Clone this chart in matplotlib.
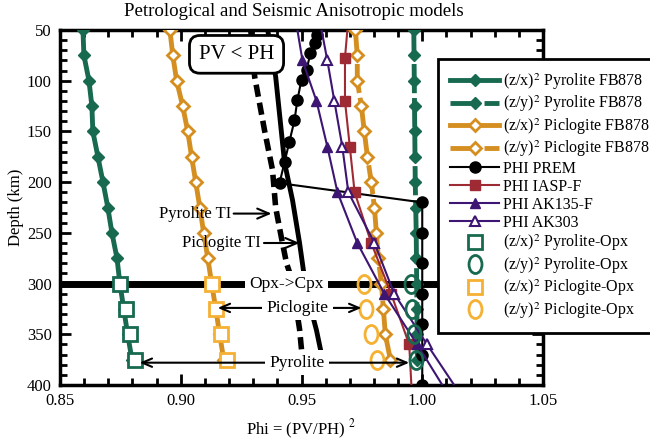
import matplotlib
matplotlib.use("Agg")
import matplotlib.pyplot as plt
from matplotlib.path import Path
from matplotlib.transforms import Affine2D
from matplotlib.ticker import MultipleLocator

plt.rcParams['font.family'] = ['Liberation Serif', 'DejaVu Serif']
plt.rcParams['mathtext.fontset'] = 'stix'

# FB878 model curves (every 25 km)
depth_fb = [50, 75, 100, 125, 150, 175, 200, 225, 250, 275, 300, 325, 350, 375]
pyr_zx_fb = [0.8595, 0.8599, 0.8620, 0.8632, 0.8636, 0.8657, 0.8678,
             0.8698, 0.8715, 0.8736, 0.8748, 0.8764, 0.8780, 0.8798]
pyr_zy_fb = [0.9965, 0.9966, 0.9967, 0.9968, 0.9969, 0.9970, 0.9971,
             0.9973, 0.9975, 0.9976, 0.9977, 0.9978, 0.9979, 0.9980]
pic_zx_fb = [0.8955, 0.8967, 0.8983, 0.9008, 0.9029, 0.9045, 0.9062,
             0.9079, 0.9095, 0.9112, 0.9128, 0.9145, 0.9161, 0.9178]
pic_zy_fb = [0.9723, 0.9731, 0.9731, 0.9748, 0.9760, 0.9773, 0.9789,
             0.9802, 0.9810, 0.9818, 0.9831, 0.9839, 0.9847, 0.9868]

# seismic models
depth_prem = [55, 63, 73, 89, 99, 119, 139, 160, 180, 201,
              220, 250, 280, 310, 340, 370, 400]
phi_prem = [0.9566, 0.9554, 0.9537, 0.9521, 0.9500, 0.9483, 0.9471, 0.9450,
            0.9430, 0.9409, 1.0, 1.0, 1.0, 1.0, 1.0, 1.0, 1.0]

depth_iasp = [50, 77.5, 120, 165, 210, 260, 310, 360, 400]
phi_iasp = [0.9690, 0.9680, 0.9680, 0.9700, 0.9720, 0.9789, 0.9871, 0.9946, 0.9955]
iasp_marks = [1, 2, 3, 4, 5, 6, 7]

depth_ak = [50, 80, 120, 165, 210, 260, 310, 360, 400]
phi_ak135 = [0.9483, 0.9504, 0.9562, 0.9607, 0.9649, 0.9731, 0.9843, 0.9979, 1.0083]
phi_ak303 = [0.9583, 0.9607, 0.9636, 0.9669, 0.9694, 0.9802, 0.9884, 1.0020, 1.0132]
ak_marks = [1, 2, 3, 4, 5, 6, 7]

# transverse isotropy curves
depth_pyr_ti = [50, 96, 149, 188, 225, 255, 280, 295, 325, 345, 375]
phi_pyr_ti = [0.9290, 0.9306, 0.9347, 0.9380, 0.9393, 0.9417, 0.9438,
              0.9459, 0.9479, 0.9492, 0.9504]
depth_pic_ti = [50, 96, 181, 218, 260, 287, 316, 346, 370, 375]
phi_pic_ti = [0.9360, 0.9393, 0.9430, 0.9463, 0.9492, 0.9508, 0.9529,
              0.9562, 0.9583, 0.9587]

# Opx models
depth_opx = [300, 325, 350, 375]
pyr_zx_opx = [0.8748, 0.8773, 0.8790, 0.8810]
pyr_zy_opx = [0.9955, 0.9959, 0.9967, 0.9975]
pic_zx_opx = [0.9128, 0.9145, 0.9165, 0.9190]
pic_zy_opx = [0.9760, 0.9768, 0.9789, 0.9814]

green = '#17694F'
orange = '#D58F21'
lorange = '#F5B133'
red = '#9E2A33'
indigo = '#3D1573'

oval = Path.unit_circle().transformed(Affine2D().scale(0.72, 1.0))

fig = plt.figure(figsize=(6.5, 4.41), dpi=100)
ax = fig.add_axes([60 / 650, 1 - 385 / 441, 483 / 650, 355 / 441])

ax.plot(pyr_zx_fb, depth_fb, color=green, lw=3.5, marker='D', ms=6.5,
        label='(z/x)$^2$ Pyrolite FB878', zorder=4)
ax.plot(pyr_zy_fb, depth_fb, color=green, lw=3.5, ls=(0, (6, 1)), marker='D', ms=6.5,
        label='(z/y)$^2$ Pyrolite FB878', zorder=4)
ax.plot(pic_zx_fb, depth_fb, color=orange, lw=3.5, marker='D', ms=6.5, mfc='white',
        mec=orange, mew=2, label='(z/x)$^2$ Piclogite FB878', zorder=4)
ax.plot(pic_zy_fb, depth_fb, color=orange, lw=3.5, ls=(0, (6, 1)), marker='D', ms=6.5,
        mfc='white', mec=orange, mew=2, label='(z/y)$^2$ Piclogite FB878', zorder=4)

ax.plot(phi_prem, depth_prem, color='black', lw=1.5, marker='o', ms=8,
        label='PHI PREM', zorder=5)
ax.plot(phi_iasp, depth_iasp, color=red, lw=1.5, marker='s', ms=7,
        markevery=iasp_marks, label='PHI IASP-F', zorder=5)
ax.plot(phi_ak135, depth_ak, color=indigo, lw=1.5, marker='^', ms=7,
        markevery=ak_marks, label='PHI AK135-F', zorder=5)
ax.plot(phi_ak303, depth_ak, color=indigo, lw=1.5, marker='^', ms=7, mfc='white',
        mew=1.5, markevery=ak_marks, label='PHI AK303', zorder=5)

ax.plot(phi_pyr_ti, depth_pyr_ti, color='black', lw=4, ls=(0, (2.2, 1.1)), zorder=3)
ax.plot(phi_pic_ti, depth_pic_ti, color='black', lw=3.5, zorder=3)

ax.plot(pyr_zx_opx, depth_opx, ls='none', marker='s', ms=10, mfc='white', mec=green,
        mew=2, label='(z/x)$^2$ Pyrolite-Opx', zorder=6)
ax.plot(pyr_zy_opx, depth_opx, ls='none', marker=oval, ms=13, mfc='none', mec=green,
        mew=2, label='(z/y)$^2$ Pyrolite-Opx', zorder=6)
ax.plot(pic_zx_opx, depth_opx, ls='none', marker='s', ms=10, mfc='white', mec=lorange,
        mew=2, label='(z/x)$^2$ Piclogite-Opx', zorder=6)
ax.plot(pic_zy_opx, depth_opx, ls='none', marker=oval, ms=13, mfc='none', mec=lorange,
        mew=2, label='(z/y)$^2$ Piclogite-Opx', zorder=6)

# Opx->Cpx transition
ax.axhline(300, color='black', lw=5, zorder=3)

arrow = dict(arrowstyle='->,head_length=0.7,head_width=0.3', color='black', lw=1.5,
             shrinkA=0, shrinkB=0)

ax.annotate('Pyrolite TI', xy=(0.9376, 231), xytext=(0.9058, 231), ha='center',
            va='center', fontsize=12, arrowprops=arrow, zorder=7)
ax.annotate('Piclogite TI', xy=(0.9492, 260), xytext=(0.9170, 260), ha='center',
            va='center', fontsize=12, arrowprops=arrow, zorder=7)
ax.text(0.9438, 300, 'Opx->Cpx', ha='center', va='center', fontsize=12.5,
        bbox=dict(boxstyle='square,pad=0.25', fc='white', ec='none'), zorder=8)

for label, yy, xl, xr in [('Piclogite', 324, 0.9153, 0.9748),
                          ('Pyrolite', 378, 0.8830, 0.9946)]:
    xc = 0.9483
    ax.annotate('', xy=(xl, yy), xytext=(xc, yy), arrowprops=arrow, zorder=7)
    ax.annotate('', xy=(xr, yy), xytext=(xc, yy), arrowprops=arrow, zorder=7)
    ax.text(xc, yy, label, ha='center', va='center', fontsize=12.5,
            bbox=dict(boxstyle='square,pad=0.25', fc='white', ec='none'), zorder=8)

ax.text(0.9231, 74, 'PV < PH', ha='center', va='center', fontsize=15,
        bbox=dict(boxstyle='round,pad=0.45,rounding_size=0.5', fc='white',
                  ec='black', lw=2), zorder=8)

ax.set_xlim(0.85, 1.05)
ax.set_ylim(400, 50)
ax.xaxis.set_major_locator(MultipleLocator(0.05))
ax.xaxis.set_minor_locator(MultipleLocator(0.01))
ax.yaxis.set_major_locator(MultipleLocator(50))
ax.yaxis.set_minor_locator(MultipleLocator(10))
ax.set_xticklabels([f'{v:.2f}' for v in ax.get_xticks()])
ax.tick_params(which='both', direction='in', top=True, right=True, width=2,
               labelsize=12, pad=6)
ax.tick_params(which='major', length=8)
ax.tick_params(which='minor', length=5)
for s in ax.spines.values():
    s.set_linewidth(2.5)

ax.set_xlabel('Phi = (PV/PH) $^2$', fontsize=12, labelpad=6)
ax.set_ylabel('Depth (km)', fontsize=12, labelpad=2)
fig.text(294 / 650, 1 - 12 / 441, 'Petrological and Seismic Anisotropic models',
         ha='center', va='center', fontsize=13.6)

leg = ax.legend(loc='upper left', bbox_to_anchor=(438 / 650, 1 - 59 / 441),
                bbox_transform=fig.transFigure, fontsize=11.5, frameon=True,
                fancybox=False, edgecolor='black', framealpha=1,
                handlelength=3.1, handletextpad=0.2, labelspacing=0.12,
                borderpad=0.75, borderaxespad=0)
leg.get_frame().set_linewidth(2)
leg.set_zorder(10)

fig.savefig('out.png', dpi=100)
